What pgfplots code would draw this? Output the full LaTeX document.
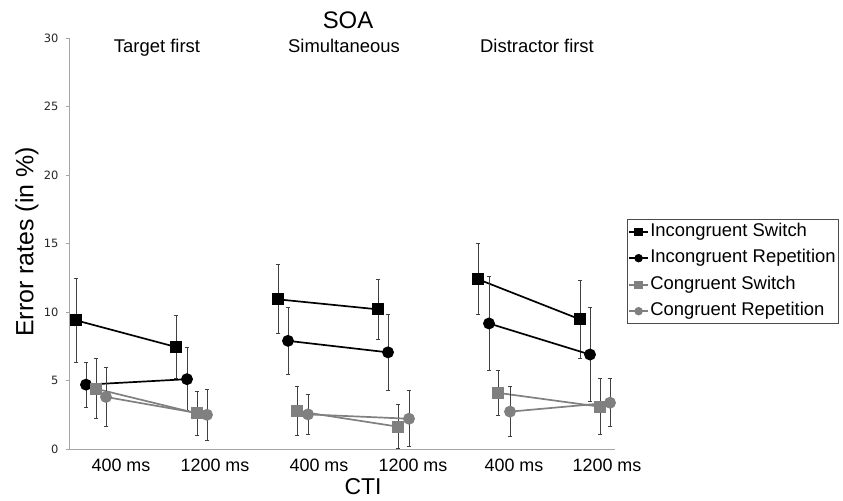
\documentclass[border=0pt]{standalone}
\usepackage{pgfplots}
\pgfplotsset{compat=1.18}
\usepackage{pgfplotstable}
\usepackage{fontspec}
\setmainfont{Liberation Sans}
\newfontfamily\tickfont{DejaVu Sans}
\definecolor{cgray}{RGB}{128,128,128}
\definecolor{ebar}{RGB}{64,64,64}
\definecolor{axgray}{RGB}{165,165,165}

\pgfplotstableread{
x y e
76 9.40 3.05
176 7.45 2.30
126 nan 0
278 10.93 2.52
378 10.20 2.20
328 nan 0
478 12.40 2.58
580 9.47 2.85
}\IS
\pgfplotstableread{
x y e
86 4.70 1.65
187 5.10 2.28
136 nan 0
288 7.90 2.45
388 7.06 2.78
338 nan 0
489 9.17 3.42
590 6.90 3.45
}\IR
\pgfplotstableread{
x y e
96 4.40 2.20
197 2.60 1.60
146 nan 0
297 2.77 1.80
398 1.63 1.60
348 nan 0
498 4.10 1.65
600 3.09 2.05
}\CS
\pgfplotstableread{
x y e
106 3.80 2.15
207 2.50 1.85
156 nan 0
308 2.53 1.45
409 2.21 2.05
358 nan 0
510 2.73 1.80
610 3.38 1.75
}\CR

\begin{document}
\begin{tikzpicture}
\path[use as bounding box] (0,0) rectangle (843bp,501bp);
\begin{axis}[
  at={(69bp,52bp)}, anchor=south west,
  scale only axis, width=546bp, height=410.7bp,
  xmin=69, xmax=615, ymin=0, ymax=30,
  clip=false,
  unbounded coords=jump,
  axis x line*=bottom, axis y line*=left,
  axis line style={-, draw=axgray, line width=0.9pt},
  ytick={0,5,...,30},
  tick align=outside,
  major tick length=3bp,
  ytick style={draw=axgray, line width=0.9pt},
  xtick={121,215,319,413,514,607},
  xticklabels={400 ms,1200 ms,400 ms,1200 ms,400 ms,1200 ms},
  xtick style={draw=none},
  xticklabel style={font=\fontsize{18}{20}\selectfont, yshift=-3bp},
  yticklabel style={font=\tickfont\fontsize{11.5}{13}\selectfont, text=black!85, xshift=-4bp},
  /pgf/number format/assume math mode=true,
  legend style={at={(axis cs:627,16.8)}, anchor=north west,
    draw=black!70, line width=0.9pt, fill=white,
    font=\fontsize{18.5}{20}\selectfont,
    inner xsep=1bp, inner ysep=2bp, row sep=6bp,
    nodes={inner xsep=1.5bp, inner ysep=1bp, text height=14bp, text depth=4.5bp}},
  legend cell align=left,
  legend image code/.code={\draw[mark repeat=2,mark phase=2, line width=1.6pt, mark size=3.4pt] plot coordinates {(0cm,0cm) (0.33cm,0cm) (0.66cm,0cm)};},
]
\addplot[black, line width=1.7pt, mark=square*, mark size=5.2pt,
  error bars/.cd, y dir=both, y explicit,
  error bar style={ebar, line width=1pt},
  error mark options={rotate=90, ebar, mark size=2.5pt, line width=1pt}]
  table[x=x, y=y, y error=e]{\IS};
\addlegendentry{Incongruent Switch}
\addplot[black, line width=1.7pt, mark=*, mark size=5.1pt,
  error bars/.cd, y dir=both, y explicit,
  error bar style={ebar, line width=1pt},
  error mark options={rotate=90, ebar, mark size=2.5pt, line width=1pt}]
  table[x=x, y=y, y error=e]{\IR};
\addlegendentry{Incongruent Repetition}
\addplot[cgray, line width=1.7pt, mark=square*, mark size=5.2pt,
  error bars/.cd, y dir=both, y explicit,
  error bar style={ebar, line width=1pt},
  error mark options={rotate=90, ebar, mark size=2.5pt, line width=1pt}]
  table[x=x, y=y, y error=e]{\CS};
\addlegendentry{Congruent Switch}
\addplot[cgray, line width=1.7pt, mark=*, mark size=5.1pt,
  error bars/.cd, y dir=both, y explicit,
  error bar style={ebar, line width=1pt},
  error mark options={rotate=90, ebar, mark size=2.5pt, line width=1pt}]
  table[x=x, y=y, y error=e]{\CR};
\addlegendentry{Congruent Repetition}
\end{axis}
\node[font=\fontsize{24}{26}\selectfont] at (348bp,481bp) {SOA};
\node[font=\fontsize{18.5}{20}\selectfont] at (157bp,453bp) {Target first};
\node[font=\fontsize{18.5}{20}\selectfont] at (344bp,455bp) {Simultaneous};
\node[font=\fontsize{18.5}{20}\selectfont] at (537bp,455bp) {Distractor first};
\node[font=\fontsize{25}{27}\selectfont, rotate=90] at (27bp,259bp) {Error rates (in \%)};
\node[font=\fontsize{23}{25}\selectfont] at (363bp,14bp) {CTI};
\end{tikzpicture}
\end{document}
